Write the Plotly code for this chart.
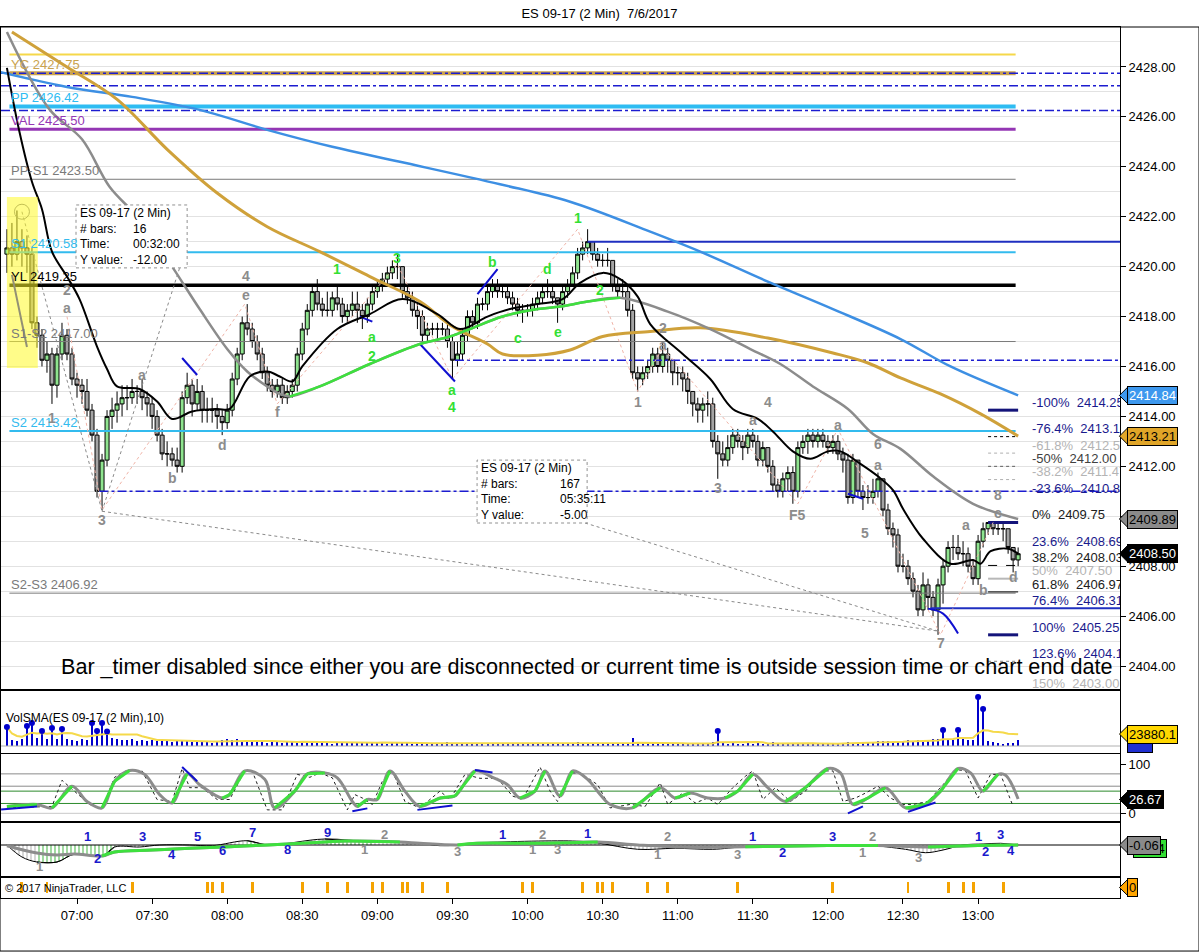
import pandas as pd
import plotly.graph_objects as go
from plotly.subplots import make_subplots

DAY = "2017-07-06 "


def T(s):
    return pd.Timestamp(DAY + s)


# ---------------- price bars (2 min, first bar 06:32) ----------------
first_open = 2420.50
closes = [
    2420.75, 2420.5, 2421.0, 2420.75, 2420.5, 2417.75, 2417.25, 2416.25, 2416.5, 2415.25,
    2416.5, 2417.25, 2416.5, 2415.5, 2415.25, 2415.0, 2414.25, 2413.25, 2411.0, 2412.25,
    2414.0, 2414.25, 2414.5, 2414.75, 2414.75, 2415.0, 2415.0, 2414.75, 2414.5, 2414.0,
    2413.25, 2412.5, 2412.5, 2412.25, 2412.0, 2414.75, 2415.25, 2414.5, 2415.0, 2414.25,
    2414.25, 2414.25, 2414.0, 2413.75, 2414.25, 2415.5, 2416.5, 2417.75, 2417.5, 2417.0,
    2416.5, 2415.75, 2415.25, 2415.0, 2415.25, 2414.75, 2415.0, 2415.25, 2416.5, 2417.5,
    2418.25, 2419.0, 2418.5, 2418.25, 2418.25, 2418.75, 2418.5, 2418.0, 2418.25, 2418.5,
    2418.25, 2418.0, 2418.5, 2419.0, 2419.25, 2419.5, 2419.75, 2420.0, 2420.0, 2419.0,
    2418.75, 2418.25, 2418.0, 2417.25, 2417.5, 2417.5, 2417.5, 2417.5, 2417.0, 2416.25,
    2416.5, 2417.25, 2418.0, 2417.75, 2418.5, 2418.5, 2419.0, 2419.25, 2419.0, 2419.0,
    2418.75, 2418.5, 2418.25, 2418.25, 2418.25, 2418.5, 2418.75, 2419.0, 2419.0, 2418.75,
    2418.5, 2419.0, 2419.25, 2419.75, 2420.5, 2420.75, 2421.0, 2420.5, 2420.25, 2420.25,
    2420.25, 2419.25, 2419.0, 2419.0, 2418.25, 2415.75, 2415.5, 2415.75, 2416.0, 2416.5,
    2416.0, 2416.5, 2416.25, 2415.75, 2415.75, 2415.5, 2415.0, 2414.5, 2414.25, 2414.5,
    2414.5, 2413.0, 2412.5, 2412.25, 2412.75, 2413.25, 2413.0, 2412.75, 2413.25, 2413.0,
    2412.25, 2412.75, 2412.0, 2411.25, 2411.0, 2411.5, 2411.75, 2411.0, 2412.75, 2413.0,
    2413.25, 2413.0, 2413.25, 2413.0, 2412.75, 2413.0, 2412.5, 2412.25, 2410.75, 2412.25,
    2411.0, 2410.75, 2410.75, 2411.0, 2411.5, 2410.25, 2409.5, 2409.25, 2408.0, 2408.0,
    2407.5, 2407.0, 2406.25, 2407.25, 2406.75, 2406.25, 2407.25, 2408.0, 2408.75, 2408.75,
    2408.5, 2408.5, 2408.0, 2407.5, 2409.0, 2409.5, 2409.75, 2409.5, 2409.5, 2409.5,
    2408.75, 2408.25, 2408.5,
]
highs = [
    2421.5, 2421.75, 2422.25, 2421.5, 2421.25, 2420.75, 2418.0, 2417.5, 2417.0, 2416.75,
    2416.75, 2417.75, 2417.5, 2416.75, 2415.75, 2415.5, 2415.5, 2414.5, 2413.5, 2412.5,
    2414.25, 2414.75, 2415.0, 2415.25, 2415.25, 2415.5, 2415.25, 2415.5, 2415.0, 2414.75,
    2414.25, 2413.5, 2413.0, 2412.75, 2412.75, 2415.0, 2415.75, 2415.5, 2415.5, 2415.25,
    2414.75, 2414.75, 2414.5, 2414.25, 2414.5, 2415.75, 2416.75, 2418.0, 2418.5, 2417.75,
    2417.25, 2416.75, 2416.0, 2415.5, 2415.5, 2415.5, 2415.25, 2415.5, 2416.75, 2417.75,
    2418.5, 2419.25, 2419.5, 2418.75, 2419.0, 2419.0, 2419.25, 2418.75, 2418.5, 2419.0,
    2419.0, 2418.5, 2418.75, 2419.25, 2419.5, 2419.75, 2420.0, 2420.25, 2420.5, 2420.0,
    2419.25, 2419.0, 2418.5, 2418.25, 2417.75, 2417.75, 2417.75, 2417.75, 2417.75, 2417.25,
    2417.0, 2417.5, 2418.25, 2418.25, 2418.75, 2418.75, 2419.25, 2419.5, 2419.5, 2419.25,
    2419.25, 2419.0, 2418.75, 2418.5, 2418.5, 2418.75, 2419.0, 2419.25, 2419.5, 2419.25,
    2418.75, 2419.25, 2419.5, 2420.0, 2420.75, 2421.0, 2421.5, 2421.0, 2420.75, 2420.5,
    2420.75, 2420.25, 2419.5, 2419.5, 2419.25, 2418.5, 2416.0, 2416.0, 2416.25, 2416.75,
    2416.75, 2417.0, 2416.75, 2416.25, 2416.0, 2416.0, 2415.75, 2415.0, 2414.75, 2414.75,
    2415.0, 2414.75, 2413.25, 2413.0, 2413.25, 2413.5, 2413.5, 2413.25, 2413.5, 2413.5,
    2413.25, 2413.0, 2412.75, 2412.25, 2411.5, 2411.75, 2412.0, 2412.0, 2413.0, 2413.25,
    2413.5, 2413.5, 2413.5, 2413.5, 2413.25, 2413.25, 2413.25, 2412.75, 2412.5, 2412.5,
    2412.25, 2411.25, 2411.25, 2411.5, 2411.75, 2411.5, 2410.5, 2409.75, 2409.5, 2408.5,
    2408.25, 2407.75, 2407.25, 2407.75, 2407.5, 2407.0, 2407.5, 2408.25, 2409.0, 2409.25,
    2409.25, 2409.0, 2408.75, 2408.25, 2409.25, 2409.75, 2409.75, 2409.75, 2409.75, 2409.75,
    2409.5, 2408.75, 2408.75,
]
lows = [
    2419.75, 2420.0, 2420.25, 2420.0, 2419.75, 2417.5, 2416.75, 2416.0, 2415.75, 2414.5,
    2414.75, 2416.25, 2416.25, 2415.25, 2414.75, 2414.5, 2414.0, 2413.0, 2410.75, 2410.25,
    2412.0, 2413.5, 2413.75, 2414.0, 2414.25, 2414.5, 2414.5, 2414.25, 2414.0, 2413.5,
    2413.0, 2412.25, 2412.0, 2412.0, 2411.75, 2411.75, 2414.5, 2414.0, 2414.25, 2413.75,
    2413.75, 2413.75, 2413.5, 2413.25, 2413.5, 2414.0, 2415.25, 2416.25, 2417.25, 2416.75,
    2416.25, 2415.5, 2415.0, 2414.75, 2414.75, 2414.5, 2414.5, 2414.75, 2415.0, 2416.25,
    2417.25, 2418.0, 2418.25, 2418.0, 2418.0, 2418.0, 2418.25, 2417.75, 2417.75, 2418.0,
    2417.75, 2417.5, 2417.75, 2418.25, 2418.75, 2419.0, 2419.25, 2419.5, 2419.5, 2418.75,
    2418.5, 2418.0, 2417.5, 2417.0, 2417.0, 2417.25, 2417.0, 2417.25, 2416.75, 2415.5,
    2416.0, 2416.25, 2417.0, 2417.5, 2417.5, 2418.25, 2418.25, 2418.75, 2418.75, 2418.75,
    2418.5, 2418.25, 2418.0, 2417.75, 2418.0, 2418.0, 2418.25, 2418.5, 2418.75, 2418.5,
    2417.75, 2418.25, 2418.75, 2419.25, 2419.5, 2420.25, 2420.5, 2420.25, 2420.0, 2420.0,
    2420.0, 2419.0, 2418.75, 2418.75, 2418.0, 2415.5, 2415.0, 2415.25, 2415.5, 2415.75,
    2415.75, 2415.75, 2415.75, 2415.25, 2415.25, 2415.0, 2414.5, 2414.0, 2413.75, 2413.75,
    2414.0, 2412.75, 2411.5, 2412.0, 2412.0, 2412.5, 2412.75, 2412.25, 2412.5, 2412.75,
    2412.0, 2412.0, 2411.75, 2411.0, 2410.75, 2410.75, 2411.0, 2410.5, 2410.75, 2412.5,
    2412.5, 2412.75, 2412.75, 2412.75, 2412.5, 2412.5, 2412.25, 2411.75, 2410.5, 2410.5,
    2410.75, 2410.25, 2410.5, 2410.5, 2410.75, 2410.0, 2409.25, 2408.75, 2407.75, 2407.75,
    2407.25, 2406.75, 2406.0, 2406.0, 2406.25, 2406.0, 2405.25, 2406.5, 2407.75, 2408.25,
    2408.25, 2408.0, 2407.75, 2407.25, 2407.25, 2408.75, 2409.25, 2409.25, 2409.25, 2409.0,
    2408.5, 2407.75, 2408.0,
]
volumes = [
    38000, 12000, 10000, 14000, 40000, 46000, 16000, 30000, 14000, 36000,
    14000, 34000, 14000, 12000, 10000, 14000, 12000, 46000, 30000, 46000,
    29000, 16000, 14000, 12000, 12000, 14000, 10000, 12000, 10000, 12000,
    10000, 12000, 10000, 8000, 10000, 12000, 10000, 8000, 10000, 8000,
    8000, 6000, 10000, 12000, 14000, 12000, 14000, 10000, 8000, 8000,
    10000, 8000, 6000, 8000, 10000, 6000, 8000, 8000, 10000, 10000,
    8000, 10000, 8000, 6000, 8000, 4000, 8000, 6000, 8000, 6000,
    6000, 8000, 6000, 6000, 8000, 6000, 4000, 6000, 8000, 6000,
    6000, 4000, 6000, 6000, 4000, 6000, 4000, 6000, 8000, 6000,
    4000, 6000, 6000, 4000, 6000, 6000, 4000, 6000, 4000, 6000,
    4000, 4000, 6000, 4000, 6000, 4000, 4000, 6000, 4000, 6000,
    6000, 4000, 6000, 4000, 8000, 6000, 4000, 6000, 4000, 6000,
    4000, 6000, 4000, 4000, 6000, 16000, 8000, 6000, 4000, 6000,
    6000, 4000, 6000, 4000, 4000, 6000, 4000, 4000, 6000, 4000,
    6000, 8000, 30000, 6000, 4000, 6000, 4000, 4000, 6000, 4000,
    6000, 4000, 6000, 8000, 6000, 4000, 6000, 4000, 6000, 4000,
    4000, 6000, 4000, 4000, 6000, 4000, 4000, 6000, 8000, 6000,
    6000, 8000, 6000, 8000, 10000, 10000, 10000, 8000, 10000, 10000,
    12000, 10000, 12000, 12000, 10000, 14000, 14000, 32000, 14000, 12000,
    32000, 14000, 12000, 12000, 98000, 74000, 10000, 8000, 6000, 4000,
    6000, 6000, 12000,
]
vol_sma_period = 10
signal_bars = [3, 8, 25, 40, 41, 43, 49, 59, 64, 68, 73, 75, 79, 80, 83, 88, 103, 105,
               115, 118, 119, 121, 128, 132, 146, 165, 180, 188, 191, 193, 199]

# ---------------- moving averages ----------------
fast_t = ["06:32", "06:37", "06:42", "06:46", "06:50", "06:56", "07:01", "07:08", "07:12",
          "07:16", "07:25", "07:32", "07:38", "07:46", "07:56", "08:01", "08:09", "08:16",
          "08:21", "08:26", "08:30", "08:44", "08:57", "09:10", "09:24", "09:33", "09:44",
          "09:53", "10:04", "10:14", "10:21", "10:30", "10:37", "10:44", "10:49", "11:02",
          "11:13", "11:22", "11:32", "11:38", "11:46", "11:53", "12:00", "12:05", "12:13",
          "12:20", "12:26", "12:30", "12:38", "12:49", "12:58", "13:01", "13:05", "13:12", "13:16"]
fast_v = [2427.96, 2425.4, 2423.4, 2422.3, 2420.6, 2419.6, 2418.7, 2416.8, 2415.9,
          2415.2, 2415.1, 2414.6, 2413.9, 2414.2, 2414.3, 2414.3, 2415.6, 2415.8,
          2415.6, 2415.4, 2416.0, 2417.5, 2418.1, 2418.7, 2418.1, 2417.5, 2418.0,
          2418.3, 2418.5, 2418.7, 2419.35, 2419.75, 2419.5, 2418.8, 2417.7, 2416.5,
          2415.5, 2414.3, 2413.9, 2413.4, 2412.6, 2412.3, 2412.6, 2412.6, 2412.1,
          2411.6, 2411.05, 2410.3, 2409.1, 2408.1, 2408.25, 2408.1, 2408.6, 2408.7, 2408.5]

slow_t = ["06:32", "06:49", "07:02", "07:13", "07:25", "07:38", "07:49", "08:00", "08:08",
          "08:16", "08:21", "08:25", "08:37", "08:57", "09:17", "09:29", "09:37", "09:50",
          "10:04", "10:13", "10:24", "10:37", "10:56", "11:13", "11:29", "11:41", "11:54",
          "12:08", "12:18", "12:29", "12:42", "12:58", "13:16"]
slow_v = [2429.4, 2426.3, 2425.1, 2423.2, 2421.9, 2420.0, 2418.3, 2416.7, 2415.8,
          2415.2, 2414.9, 2414.8, 2415.2, 2416.1, 2416.9, 2417.2, 2417.5, 2418.0,
          2418.3, 2418.4, 2418.6, 2418.75, 2418.2, 2417.5, 2416.7, 2416.1, 2415.2,
          2414.3, 2413.3, 2412.7, 2411.6, 2410.5, 2409.89]
slow_rise = ("08:25", "10:37")

gold_t = ["06:34", "06:56", "07:16", "07:36", "07:56", "08:16", "08:37", "08:57", "09:17",
          "09:30", "09:44", "09:50", "10:04", "10:17", "10:30", "10:49", "11:09", "11:36",
          "12:02", "12:16", "12:29", "12:45", "13:01", "13:16"]
gold_v = [2429.4, 2428.0, 2426.7, 2424.7, 2422.95, 2421.6, 2420.6, 2419.6, 2418.6,
          2417.6, 2416.9, 2416.5, 2416.45, 2416.66, 2417.2, 2417.4, 2417.55, 2417.14,
          2416.54, 2416.14, 2415.54, 2414.9, 2414.1, 2413.21]

blue_t = ["06:29", "06:56", "07:22", "07:49", "08:16", "08:42", "09:09", "09:49", "10:17",
          "10:49", "11:09", "11:36", "12:02", "12:29", "12:49", "13:16"]
blue_v = [2427.8, 2427.2, 2426.8, 2426.28, 2425.48, 2424.8, 2424.2, 2423.3, 2422.6,
          2421.4, 2420.6, 2419.4, 2418.3, 2417.1, 2416.0, 2414.84]

# ---------------- levels ----------------
pivot_names = ["YC", "PP", "VAL", "PP-S1", "S1", "YL", "S1-S2", "S2", "S2-S3"]
pivot_values = [2427.75, 2426.42, 2425.50, 2423.50, 2420.58, 2419.25, 2417.00, 2413.42, 2406.92]
open_level = 2428.50
dashdot_levels = [2427.75, 2427.25, 2426.25, 2416.25, 2411.00]
dashdot_start = ["06:29", "06:29", "06:29", "09:31", "07:09"]
swing_levels = [2421.00, 2406.31]
swing_start = ["10:24", "12:41"]

fib_pcts = ["-100%", "-76.4%", "-61.8%", "-50%", "-38.2%", "-23.6%", "0%", "23.6%",
            "38.2%", "50%", "61.8%", "76.4%", "100%", "123.6%", "150%"]
fib_values = [2414.25, 2413.19, 2412.53, 2412.00, 2411.47, 2410.81, 2409.75, 2408.69,
              2408.03, 2407.50, 2406.97, 2406.31, 2405.25, 2404.19, 2403.00]

# wave labels (time, price, text)
gray_labels = [("06:50", 2413.94, "1"), ("06:56", 2419.07, "2"), ("06:56", 2418.35, "a"),
               ("07:10", 2409.85, "3"), ("07:26", 2415.66, "a"), ("07:38", 2411.53, "b"),
               ("07:58", 2412.85, "d"), ("08:07:30", 2419.63, "4"), ("08:07:30", 2418.87, "e"),
               ("08:20", 2414.18, "f"), ("10:54", 2417.54, "2"), ("10:54", 2416.86, "a"),
               ("10:44", 2414.58, "1"), ("11:36", 2414.58, "4"), ("11:30", 2413.86, "a"),
               ("11:16", 2411.13, "3"), ("11:48", 2410.05, "F5"), ("12:04", 2413.66, "a"),
               ("12:20", 2412.9, "6"), ("12:20", 2412.05, "a"), ("12:15", 2409.33, "5"),
               ("12:45", 2404.92, "7"), ("12:55", 2409.65, "a"), ("13:02", 2407.05, "b"),
               ("13:08", 2410.85, "8"), ("13:08", 2410.13, "c"), ("13:14", 2407.57, "d")]
green_labels = [("08:44", 2419.9, "1"), ("09:08", 2420.35, "3"), ("08:58", 2417.18, "a"),
                ("08:58", 2416.42, "2"), ("09:30", 2415.06, "a"), ("09:30", 2414.38, "4"),
                ("09:46", 2420.19, "b"), ("09:56", 2417.14, "c"), ("10:08", 2419.9, "d"),
                ("10:12", 2417.38, "e"), ("10:20", 2421.95, "1"), ("10:29", 2419.07, "2")]

# ---------------- lower panels ----------------
stoch_t = ["06:32", "06:44", "06:50", "06:58", "07:04", "07:10", "07:15", "07:21", "07:27",
           "07:33", "07:38", "07:44", "07:49", "07:58", "08:01", "08:07", "08:15", "08:19",
           "08:27", "08:32", "08:39", "08:44", "08:50", "08:52", "08:56", "09:00", "09:05",
           "09:11", "09:17", "09:25", "09:31", "09:39", "09:46", "09:52", "09:57", "10:03",
           "10:07", "10:13", "10:18", "10:24", "10:29", "10:33", "10:42", "10:53", "10:59",
           "11:05", "11:12", "11:19", "11:24", "11:30", "11:36", "11:43", "11:51", "12:00",
           "12:05", "12:10", "12:16", "12:23", "12:31", "12:39", "12:45", "12:52", "12:57",
           "13:02", "13:08", "13:11", "13:16"]
stoch_v = [14, 18, 11, 55, 24, 11, 65, 87, 79, 38, 21, 80, 58, 31, 38, 86, 69, 11,
           45, 80, 82, 72, 24, 14, 28, 28, 86, 45, 14, 31, 35, 86, 73, 58, 31, 45,
           86, 35, 86, 69, 38, 18, 11, 52, 31, 41, 31, 31, 45, 79, 52, 24, 52, 91,
           82, 18, 31, 52, 11, 18, 45, 91, 82, 45, 79, 77, 29]
stochk_t = ["06:32", "06:44", "06:50", "06:54", "06:59", "07:05", "07:10", "07:15", "07:20",
            "07:26", "07:32", "07:38", "07:42", "07:45", "07:50", "07:56", "08:01", "08:07",
            "08:10", "08:16", "08:22", "08:28", "08:33", "08:37", "08:42", "08:48", "08:51",
            "08:54", "08:58", "09:02", "09:06", "09:11", "09:17", "09:25", "09:29", "09:35",
            "09:41", "09:48", "09:54", "09:58", "10:05", "10:09", "10:12", "10:17", "10:21",
            "10:28", "10:33", "10:41", "10:47", "10:53", "10:56", "11:02", "11:07", "11:12",
            "11:16", "11:22", "11:27", "11:30", "11:34", "11:39", "11:45", "11:51", "11:58",
            "12:02", "12:06", "12:11", "12:15", "12:20", "12:25", "12:30", "12:34", "12:40",
            "12:46", "12:51", "12:55", "13:00", "13:05", "13:09", "13:14"]
stochk_v = [11, 14, 14, 67, 45, 18, 9, 73, 87, 86, 28, 24, 91, 52, 52, 28, 28, 86,
            86, 7, 7, 79, 73, 82, 72, 7, 38, 31, 18, 65, 86, 24, 11, 45, 28, 79,
            71, 71, 35, 28, 94, 45, 24, 82, 82, 58, 11, 18, 14, 62, 18, 41, 21, 31,
            18, 52, 75, 86, 28, 52, 24, 45, 86, 86, 24, 31, 41, 55, 31, 18, 18, 24,
            58, 89, 86, 31, 79, 79, 14]
stoch_levels = [80, 55, 45, 20]

macd_t = ["06:32", "06:38", "06:44", "06:52", "06:59", "07:10", "07:15", "07:25", "07:33",
          "07:45", "07:54", "08:08", "08:16", "08:39", "08:58", "09:17", "09:25", "09:32",
          "09:40", "10:18", "10:28", "10:44", "10:59", "11:14", "11:27", "12:00", "12:15",
          "12:31", "12:39", "12:46", "12:54", "13:02", "13:09", "13:16"]
macd_v = [0, -12, -17, -17, -9, -11, -2, -2, 0, 0, -0.7, 4.3, 0, 6, 3, 1.7, -0.7, 0,
          2, 4, 2, -4.3, -3.3, -4.3, -1.7, 0, 0, -4.3, -7.7, -5, 0, 1, 1.7, 0]
sig_t = ["06:32", "06:44", "06:52", "06:59", "07:10", "07:15", "07:30", "07:45", "08:01",
         "08:16", "08:39", "08:47", "09:09", "09:17", "09:32", "09:40", "10:03", "10:28",
         "10:44", "11:00", "11:27", "12:00", "12:20", "12:40", "13:00", "13:16"]
sig_v = [-0.7, -8, -10, -9, -11, -7, -5, -3.3, -1.7, 0, 3, 4, 3, 1.7, 0, 1.7, 1.7, 3,
         0, -2, -1.7, -0.5, -0.5, -2, -0.5, 0]
sig_rising = [("07:10", "09:09"), ("09:32", "10:28"), ("11:27", "12:20"), ("12:40", "13:16")]
macd_green = [("06:44", "07:15"), ("08:01", "08:16"), ("08:30", "08:58")]
macd_labels_blue = [("07:04", 9, "1"), ("07:08", -13, "2"), ("07:26", 9, "3"), ("07:38", -9, "4"),
                    ("07:48", 9, "5"), ("07:58", -5, "6"), ("08:10", 13, "7"), ("08:24", -4, "8"),
                    ("08:40", 13, "9"), ("09:50", 11, "1"), ("10:24", 12, "1"), ("11:30", 9, "1"),
                    ("11:42", -7, "2"), ("12:02", 9, "3"), ("13:00", 9, "1"), ("13:03", -6, "2"),
                    ("13:09", 11, "3"), ("13:13", -5, "4")]
macd_labels_gray = [("06:45", -21, "1"), ("09:03", 11, "2"), ("08:55", -4, "1"), ("09:32", -6, "3"),
                    ("10:06", 11, "2"), ("10:02", -4, "1"), ("10:12", -4, "3"), ("10:56", 9, "2"),
                    ("10:52", -9, "1"), ("11:24", -9, "3"), ("12:18", 9, "2"), ("12:14", -7, "1"),
                    ("12:36", -12, "3")]

sessions = [("06:29", "07:59", "#f2f3fa"), ("08:09", "10:45", "#f2f2f2"), ("11:00", "12:59", "#e9fbe9")]

# ---------------- derived ----------------
bar_times = pd.date_range(DAY + "06:32", periods=len(closes), freq="2min")
opens = [first_open] + closes[:-1]
highs = [max(h, o, c) for h, o, c in zip(highs, opens, closes)]
lows = [min(l, o, c) for l, o, c in zip(lows, opens, closes)]
vol_sma = pd.Series(volumes).rolling(vol_sma_period, min_periods=1).mean()
ts = lambda lst: [T(s) for s in lst]
X_START, X_END = T("06:29:38"), T("13:56:42")
LINE_END = T("13:15")

FONT = "Arial, Liberation Sans, sans-serif"

fig = make_subplots(rows=5, cols=1, shared_xaxes=True, vertical_spacing=0,
                    row_heights=[663, 64, 68, 55, 21])

# --- session shading
for s0, s1, col in sessions:
    fig.add_vrect(x0=T(s0) if s0 != "06:29" else X_START, x1=T(s1), fillcolor=col, opacity=1,
                  line_width=0, layer="below", row=1, col=1)


def hline(y, x0, x1, color, width, dash="solid", row=1):
    fig.add_trace(go.Scatter(x=[x0, x1], y=[y, y], mode="lines", hoverinfo="skip",
                             line=dict(color=color, width=width, dash=dash), showlegend=False),
                  row=row, col=1)


# --- levels
pivot_style = {
    "YC": ("#c9a24e", 4), "PP": ("#2ebcf2", 4), "VAL": ("#9436b4", 3),
    "PP-S1": ("#7a7a7a", 1), "S1": ("#33bbee", 2), "YL": ("#000000", 3.5),
    "S1-S2": ("#7a7a7a", 1), "S2": ("#33bbee", 2), "S2-S3": ("#7a7a7a", 1),
}
label_color = {"YC": "#c9a24e", "PP": "#2ebcf2", "VAL": "#9436b4", "PP-S1": "#7a7a7a",
               "S1": "#33bbee", "YL": "#000000", "S1-S2": "#7a7a7a", "S2": "#33bbee",
               "S2-S3": "#7a7a7a"}
hline(open_level, T("06:33"), LINE_END, "#f5d84a", 2)
for name, val in zip(pivot_names, pivot_values):
    c, w = pivot_style[name]
    hline(val, T("06:33"), LINE_END, c, w)
for val, st in zip(dashdot_levels, dashdot_start):
    hline(val, X_START if st == "06:29" else T(st), X_END, "#1c1cd0", 1.5, "dashdot")
for val, st in zip(swing_levels, swing_start):
    hline(val, T(st), X_END, "#1f2fc0", 2)

# --- fib short lines
fib_style = {"-100%": ("#14147a", 3, "solid"), "-76.4%": ("#000000", 1, "dot"),
             "-61.8%": ("#b0b0b0", 1, "dot"), "-50%": ("#606060", 1, "dot"),
             "-38.2%": ("#b0b0b0", 1, "dot"), "0%": ("#14147a", 3, "solid"),
             "38.2%": ("#000000", 1, "dash"), "50%": ("#b8b8b8", 2, "solid"),
             "61.8%": ("#000000", 1, "solid"), "100%": ("#14147a", 3, "solid"),
             "123.6%": ("#808080", 1, "dot"), "150%": ("#808080", 1, "dot")}
fib_color = {"-100%": "#1a1a8c", "-76.4%": "#1a1a8c", "-61.8%": "#b4b4b4", "-50%": "#404040",
             "-38.2%": "#b4b4b4", "-23.6%": "#1a1a8c", "0%": "#202020", "23.6%": "#1a1a8c",
             "38.2%": "#202020", "50%": "#b4b4b4", "61.8%": "#202020", "76.4%": "#1a1a8c",
             "100%": "#1a1a8c", "123.6%": "#1a1a8c", "150%": "#b4b4b4"}
for p, v in zip(fib_pcts, fib_values):
    if p in fib_style:
        c, w, d = fib_style[p]
        hline(v, T("13:04"), T("13:16"), c, w, d)
fig.add_trace(go.Scatter(
    x=[T("13:21:30")] * len(fib_values), y=fib_values, mode="text",
    text=[f"{p}  {v:.2f}" for p, v in zip(fib_pcts, fib_values)],
    textposition="top right", cliponaxis=True, hoverinfo="skip", showlegend=False,
    textfont=dict(family=FONT, size=13, color=[fib_color[p] for p in fib_pcts])), row=1, col=1)

# --- drawing tool lines
dotted_lines = [
    [("06:38", 2422.2), ("07:10", 2410.2)],
    [("07:10", 2410.2), ("07:41", 2419.95)],
    [("07:10", 2410.2), ("12:44", 2405.4)],
    [("10:23", 2409.73), ("12:44", 2405.4)],
]
for seg in dotted_lines:
    fig.add_trace(go.Scatter(x=[T(a) for a, _ in seg], y=[b for _, b in seg], mode="lines",
                             line=dict(color="#8a8a8a", width=1, dash="dot"),
                             hoverinfo="skip", showlegend=False), row=1, col=1)
zigzag_t = ["06:56", "07:10", "08:07", "08:20", "09:08", "09:30", "10:20", "10:44", "10:54",
            "11:48", "12:04", "12:45", "13:06"]
zigzag_v = [2418.0, 2410.25, 2418.5, 2414.5, 2420.1, 2415.5, 2421.5, 2415.0, 2416.75,
            2410.5, 2413.5, 2405.25, 2409.75]
fig.add_trace(go.Scatter(x=ts(zigzag_t), y=zigzag_v, mode="lines",
                         line=dict(color="#f0b4a8", width=1, dash="dot"),
                         hoverinfo="skip", showlegend=False), row=1, col=1)
blue_marks = [
    [("06:34", 2419.67), ("06:40", 2416.78)],
    [("07:42", 2416.34), ("07:48", 2415.66)],
    [("08:53", 2418.0), ("08:58", 2417.8)],
    [("09:17", 2416.9), ("09:31", 2415.4)],
    [("09:40", 2418.9), ("09:48", 2419.9)],
    [("12:08", 2410.9), ("12:14", 2410.7)],
    [("12:40", 2406.3), ("12:46", 2406.1), ("12:52", 2405.3)],
]
for seg in blue_marks:
    fig.add_trace(go.Scatter(x=[T(a) for a, _ in seg], y=[b for _, b in seg], mode="lines",
                             line=dict(color="#1010d0", width=2, shape="spline"),
                             hoverinfo="skip", showlegend=False), row=1, col=1)

# --- candles
fig.add_trace(go.Candlestick(
    x=bar_times, open=opens, high=highs, low=lows, close=closes,
    increasing=dict(line=dict(color="#000000", width=1), fillcolor="#8fe48f"),
    decreasing=dict(line=dict(color="#000000", width=1), fillcolor="#a4a4a4"),
    whiskerwidth=0, hoverinfo="skip", showlegend=False), row=1, col=1)

# --- moving averages
fig.add_trace(go.Scatter(x=ts(blue_t), y=blue_v, mode="lines", line=dict(color="#3d8fe3", width=2.5, shape="spline"),
                         hoverinfo="skip", showlegend=False), row=1, col=1)
fig.add_trace(go.Scatter(x=ts(gold_t), y=gold_v, mode="lines", line=dict(color="#cfa13a", width=3, shape="spline"),
                         hoverinfo="skip", showlegend=False), row=1, col=1)
fig.add_trace(go.Scatter(x=ts(slow_t), y=slow_v, mode="lines", line=dict(color="#8c8c8c", width=2.5, shape="spline"),
                         hoverinfo="skip", showlegend=False), row=1, col=1)
rise = [(T(t), v) for t, v in zip(slow_t, slow_v) if T(slow_rise[0]) <= T(t) <= T(slow_rise[1])]
fig.add_trace(go.Scatter(x=[a for a, _ in rise], y=[b for _, b in rise], mode="lines",
                         line=dict(color="#3ee03e", width=2.5, shape="spline"),
                         hoverinfo="skip", showlegend=False), row=1, col=1)
fig.add_trace(go.Scatter(x=ts(fast_t), y=fast_v, mode="lines", line=dict(color="#000000", width=2, shape="spline"),
                         hoverinfo="skip", showlegend=False), row=1, col=1)
fig.add_trace(go.Scatter(x=[T("06:38")], y=[2422.2], mode="markers",
                         marker=dict(symbol="circle-open", size=15, color="#7a7a8a", line=dict(width=1)),
                         hoverinfo="skip", showlegend=False), row=1, col=1)

# yellow highlight over the first bars
fig.add_shape(type="rect", x0=T("06:32"), x1=T("06:44:20"), y0=2415.94, y1=2422.79,
              fillcolor="rgba(255,250,40,0.55)", line_width=0, layer="above", row=1, col=1)

# --- level labels
for name, val in zip(pivot_names, pivot_values):
    fig.add_annotation(x=T("06:33"), y=val, xref="x", yref="y", text=f"{name} {val:.2f}",
                       showarrow=False, xanchor="left", yanchor="bottom", yshift=-1,
                       font=dict(family=FONT, size=13, color=label_color[name]))

# --- wave labels
for t, p, s in gray_labels:
    fig.add_annotation(x=T(t), y=p, text=f"<b>{s}</b>", showarrow=False, xref="x", yref="y",
                       font=dict(family=FONT, size=14, color="#8c8c8c"))
for t, p, s in green_labels:
    fig.add_annotation(x=T(t), y=p, text=f"<b>{s}</b>", showarrow=False, xref="x", yref="y",
                       font=dict(family=FONT, size=14, color="#33e033"))

# --- info boxes
boxes = [
    (("06:59:36", "07:44"), (2419.95, 2422.47), "16", "00:32:00", "-12.00", "07:21:30"),
    (("09:39:50", "10:23:48"), (2409.73, 2412.25), "167", "05:35:11", "-5.00", "10:12"),
]
for (bx0, bx1), (by0, by1), nb, tm, yv, vx in boxes:
    fig.add_shape(type="rect", x0=T(bx0), x1=T(bx1), y0=by0, y1=by1, fillcolor="white",
                  line=dict(color="#909090", width=1, dash="dot"), layer="above", row=1, col=1)
    step = (by1 - by0) / 4
    rows_l = ["ES 09-17 (2 Min)", "# bars:", "Time:", "Y value:"]
    rows_v = [None, nb, tm, yv]
    for k in range(4):
        yk = by1 - step * (k + 0.5)
        fig.add_annotation(x=T(bx0), y=yk, text=rows_l[k], showarrow=False, xanchor="left",
                           xshift=2, font=dict(family=FONT, size=12, color="black"))
        if rows_v[k]:
            fig.add_annotation(x=T(vx), y=yk, text=rows_v[k], showarrow=False, xanchor="left",
                               font=dict(family=FONT, size=12, color="black"))

fig.add_annotation(x=0.523, xref="paper", y=2404.0, yref="y", showarrow=False,
                   text="Bar _timer disabled since either you are disconnected or current time is outside session time or chart end date",
                   font=dict(family=FONT, size=21.6, color="black"))

# ---------------- volume panel ----------------
fig.add_trace(go.Bar(x=bar_times, y=volumes, width=48000, marker=dict(color="#0000cc", line_width=0),
                     hoverinfo="skip", showlegend=False), row=2, col=1)
fig.add_trace(go.Scatter(x=bar_times, y=vol_sma, mode="lines", line=dict(color="#f5d94a", width=2),
                         hoverinfo="skip", showlegend=False), row=2, col=1)
big = [(t, v) for t, v, s in zip(bar_times, volumes, vol_sma) if v >= 28000]
fig.add_trace(go.Scatter(x=[a for a, _ in big], y=[b for _, b in big], mode="markers",
                         marker=dict(color="#0000cc", size=6), hoverinfo="skip", showlegend=False),
              row=2, col=1)
hline(0, X_START, X_END, "#b0b0b0", 1, row=2)
fig.add_annotation(x=0.003, xref="paper", y=0.7, yref="y2 domain", text="VolSMA(ES 09-17 (2 Min),10)",
                   showarrow=False, xanchor="left", font=dict(family=FONT, size=12, color="black"))

# ---------------- stochastics panel ----------------
for lv, c in zip(stoch_levels, ["#8a8a8a", "#8a8a8a", "#2b8a2b", "#2b8a2b"]):
    hline(lv, X_START, X_END, c, 1, row=3)
hline(0, X_START, X_END, "#c8c8c8", 1, row=3)
fig.add_trace(go.Scatter(x=ts(stochk_t), y=stochk_v, mode="lines", line=dict(color="#202020", width=1, dash="dot"),
                         hoverinfo="skip", showlegend=False), row=3, col=1)
fig.add_trace(go.Scatter(x=ts(stoch_t), y=stoch_v, mode="lines", line=dict(color="#8c8c8c", width=3, shape="spline"),
                         hoverinfo="skip", showlegend=False), row=3, col=1)
for i in range(len(stoch_t) - 1):
    if stoch_v[i + 1] > stoch_v[i]:
        fig.add_trace(go.Scatter(x=[T(stoch_t[i]), T(stoch_t[i + 1])], y=[stoch_v[i], stoch_v[i + 1]],
                                 mode="lines", line=dict(color="#3ee03e", width=3),
                                 hoverinfo="skip", showlegend=False), row=3, col=1)
stoch_div = [[("06:29:40", 8), ("06:44", 14)], [("07:42", 94), ("07:48", 65)],
             [("08:50", 4), ("08:56", 10)], [("09:16", 7), ("09:30", 16)],
             [("09:39", 88), ("09:46", 83)], [("12:08", 0), ("12:14", 14)],
             [("12:32", 3), ("12:43", 22)]]
for seg in stoch_div:
    fig.add_trace(go.Scatter(x=[T(a) for a, _ in seg], y=[b for _, b in seg], mode="lines",
                             line=dict(color="#1010d0", width=2), hoverinfo="skip", showlegend=False),
                  row=3, col=1)

# ---------------- macd-like panel ----------------
fig.add_trace(go.Scatter(x=ts(macd_t), y=macd_v, mode="lines", fill="tozeroy",
                         fillcolor="rgba(0,0,0,0)",
                         fillpattern=dict(shape="|", fgcolor="#8c8c8c", size=4, solidity=0.35),
                         line=dict(color="#000000", width=1, shape="spline"),
                         hoverinfo="skip", showlegend=False), row=4, col=1)
for g0, g1 in macd_green:
    seg = [(T(t), v) for t, v in zip(macd_t, macd_v) if T(g0) <= T(t) <= T(g1)]
    fig.add_trace(go.Scatter(x=[a for a, _ in seg], y=[b for _, b in seg], mode="lines", fill="tozeroy",
                             fillcolor="rgba(0,0,0,0)",
                             fillpattern=dict(shape="|", fgcolor="#3ee03e", size=4, solidity=0.35),
                             line=dict(color="#000000", width=1, shape="spline"),
                             hoverinfo="skip", showlegend=False), row=4, col=1)
hline(0, X_START, X_END, "#000000", 1, row=4)
fig.add_trace(go.Scatter(x=ts(sig_t), y=sig_v, mode="lines", line=dict(color="#8c8c8c", width=3, shape="spline"),
                         hoverinfo="skip", showlegend=False), row=4, col=1)
for r0, r1 in sig_rising:
    seg = [(T(t), v) for t, v in zip(sig_t, sig_v) if T(r0) <= T(t) <= T(r1)]
    fig.add_trace(go.Scatter(x=[a for a, _ in seg], y=[b for _, b in seg], mode="lines",
                             line=dict(color="#3ee03e", width=3, shape="spline"),
                             hoverinfo="skip", showlegend=False), row=4, col=1)
for t, v, s in macd_labels_blue:
    fig.add_annotation(x=T(t), y=v, xref="x4", yref="y4", text=f"<b>{s}</b>", showarrow=False,
                       font=dict(family=FONT, size=13, color="#1a1acc"))
for t, v, s in macd_labels_gray:
    fig.add_annotation(x=T(t), y=v, xref="x4", yref="y4", text=f"<b>{s}</b>", showarrow=False,
                       font=dict(family=FONT, size=13, color="#8c8c8c"))

# ---------------- signal strip ----------------
fig.add_trace(go.Bar(x=[bar_times[i] for i in signal_bars], y=[0.52] * len(signal_bars), base=0.24,
                     width=70000, marker=dict(color="#f5a300", line_width=0),
                     hoverinfo="skip", showlegend=False), row=5, col=1)
fig.add_annotation(x=0.002, xref="paper", y=0.5, yref="y5 domain", text="© 2017 NinjaTrader, LLC",
                   showarrow=False, xanchor="left", font=dict(family=FONT, size=11, color="black"))

# ---------------- right axis tags ----------------
# (axis, value, text, background, font colour, half height of the arrow in axis units)
tags = [("y2", 6000, "      ", "#1f2fd0", "white", 0),
        ("y", 2414.84, "2414.84", "#3d98ee", "white", 0.33), ("y", 2413.21, "2413.21", "#e0a528", "black", 0.33),
        ("y", 2409.89, "2409.89", "#8a8a8a", "black", 0.33), ("y", 2408.50, "2408.50", "#000000", "white", 0.33),
        ("y2", 23880, "23880.1", "#ffd700", "black", 16000), ("y3", 28, "26.67", "#000000", "white", 16),
        ("y4", -3, "-0.04", "#33dd33", "black", 0),
        ("y4", 0, "-0.06", "#8a8a8a", "black", 8), ("y5", 0.5, "0", "#ffa500", "black", 0.38)]
for yr, yv, txt, bg, fc, hh in tags:
    xs = 1.012 if txt == "-0.04" else 1.006
    fig.add_annotation(x=xs, xref="paper", y=yv, yref=yr, text=txt, showarrow=False,
                       xanchor="left", bgcolor=bg, bordercolor="#000000", borderwidth=1, borderpad=1,
                       font=dict(family=FONT, size=13, color=fc))
    if hh:
        fig.add_shape(type="path", xref="paper", yref=yr,
                      path=f"M 0.9995,{yv} L 1.0068,{yv + hh} L 1.0068,{yv - hh} Z",
                      fillcolor=bg, line=dict(color="#000000", width=1))

# ---------------- axes / layout ----------------
tick_times = [T(f"{h:02d}:{m:02d}") for h in range(7, 14) for m in (0, 30) if not (h == 13 and m == 30)]
for r in range(1, 6):
    fig.update_xaxes(range=[X_START, X_END], showgrid=False, showline=True, mirror=True,
                     linecolor="black", linewidth=1, rangeslider_visible=False,
                     tickvals=tick_times, row=r, col=1)
fig.update_xaxes(ticks="outside", ticklen=5, tickcolor="black", tickformat="%H:%M",
                 tickfont=dict(family=FONT, size=13, color="black"), row=5, col=1)

fig.update_yaxes(side="right", showline=True, mirror=True, linecolor="black", linewidth=1,
                 zeroline=False, tickfont=dict(family=FONT, size=13, color="black"))
fig.update_yaxes(range=[2403.04, 2429.6], dtick=2, tick0=2404, tickformat=".2f", ticks="outside",
                 ticklen=5, tickcolor="black", showgrid=True, gridcolor="#e2e2e2",
                 minor=dict(dtick=1, showgrid=True, gridcolor="#e2e2e2"), row=1, col=1)
fig.update_yaxes(range=[-16000, 112000], showticklabels=False, showgrid=False, row=2, col=1)
fig.update_yaxes(range=[-17.6, 120.3], tickvals=[0, 100], ticks="outside", ticklen=5, tickcolor="black",
                 showgrid=False, row=3, col=1)
fig.update_yaxes(range=[-32, 23], showticklabels=False, showgrid=False, row=4, col=1)
fig.update_yaxes(range=[0, 1], showticklabels=False, showgrid=False, row=5, col=1)

fig.add_shape(type="rect", xref="paper", yref="paper", x0=-0.0009, x1=1.0706, y0=-0.0609, y1=1.0,
              line=dict(color="black", width=1), fillcolor="rgba(0,0,0,0)")

fig.update_layout(
    width=1199, height=952,
    margin=dict(l=1, r=79, t=27, b=54),
    paper_bgcolor="white", plot_bgcolor="white",
    showlegend=False, bargap=0, boxgap=0.2, boxgroupgap=0,
    title=dict(text="ES 09-17 (2 Min)  7/6/2017", x=0.5, xref="container", y=0.986, yanchor="middle",
               font=dict(family=FONT, size=13, color="black")),
    font=dict(family=FONT, size=12, color="black"),
)

fig.write_html("out.html", config={"displayModeBar": False},
               post_script="document.body.style.margin='0';")
